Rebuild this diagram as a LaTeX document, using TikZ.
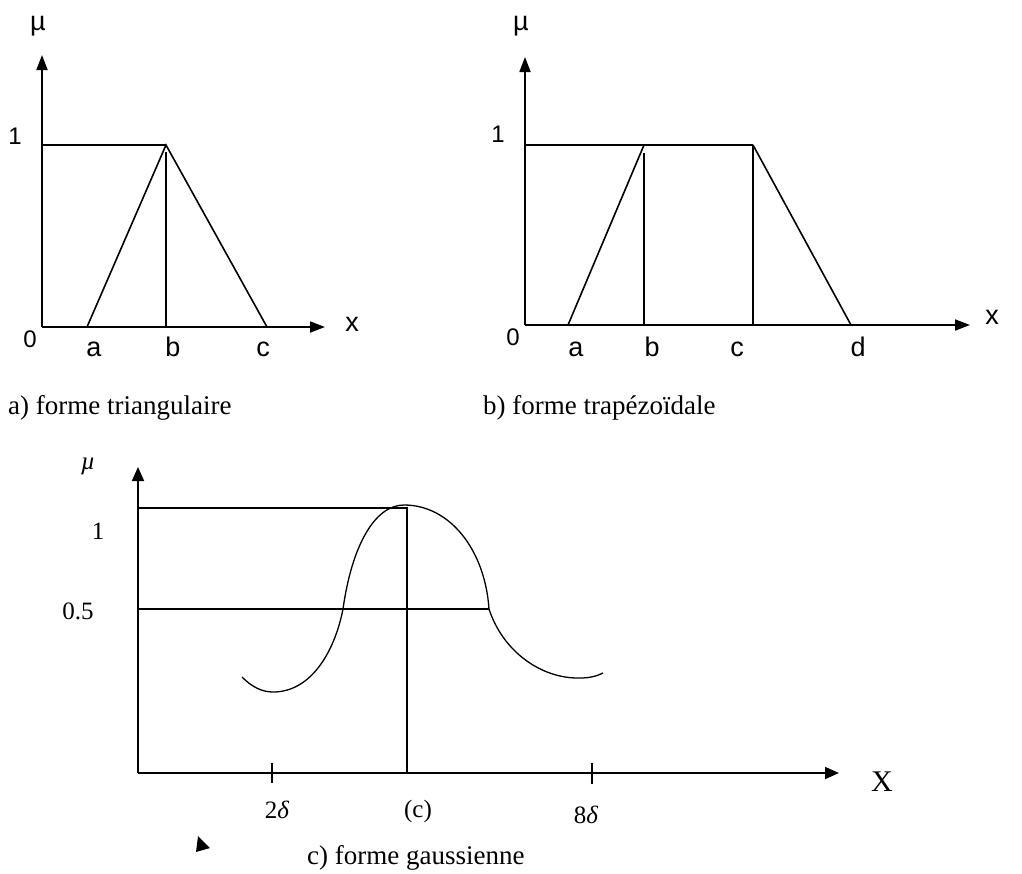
\documentclass[tikz,border=0pt]{standalone}
\usepackage{fontspec}
\setmainfont{Liberation Serif}
\newfontfamily\arialf{Liberation Sans}
\usetikzlibrary{arrows.meta}
\tikzset{
  axis/.style={line width=1.8pt,-{Triangle[length=15pt,width=11pt]}},
  axisc/.style={line width=1.7pt,-{Triangle[length=14pt,width=12pt]}},
  ln/.style={line width=1.8pt},
  lnc/.style={line width=1.6pt},
  curve/.style={line width=1.3pt},
  sanslab/.style={font=\arialf\fontsize{27}{31}\selectfont, inner sep=0pt},
  sansnum/.style={font=\arialf\fontsize{24}{28}\selectfont, inner sep=0pt},
  seriflab/.style={font=\fontsize{25}{29}\selectfont, inner sep=0pt},
  caption/.style={font=\fontsize{27}{31}\selectfont, inner sep=0pt, anchor=west},
}
\begin{document}
\begin{tikzpicture}[x=1pt,y=-1pt]
\useasboundingbox (0,0) rectangle (1022,873);
% ---------- panel a ----------
\coordinate (aO) at (42,327);
\coordinate (aY) at (42,55);
\coordinate (aX) at (325,327);
\coordinate (aA) at (87,327);
\coordinate (aB) at (166,327);
\coordinate (aBt) at (166,145);
\coordinate (aBv) at (166,152);
\coordinate (aC) at (267,327);
\coordinate (a1) at (42,145);
\draw[axis] (aO) -- (aY);
\draw[axis] (aO) -- (aX);
\draw[ln] (a1) -- (aBt);
\draw[lnc] (aA) -- (aBt) -- (aC);
\draw[ln] (aBv) -- (aB);
\node[sanslab] (amu) at (38,26) {µ};
\node[sansnum] (aone) at (15,136) {1};
\node[sansnum] (azero) at (30,339) {0};
\node[sanslab] (alx) at (352,324) {x};
\node[sanslab] (ala) at (94,349) {a};
\node[sanslab] (alb) at (173,347) {b};
\node[sanslab] (alc) at (263,349) {c};
\node[caption] (acap) at (8,408) {a) forme triangulaire};
% ---------- panel b ----------
\coordinate (bO) at (525,325);
\coordinate (bY) at (525,57);
\coordinate (bX) at (970,325);
\coordinate (bA) at (568,325);
\coordinate (bB) at (644,325);
\coordinate (bBt) at (644,145);
\coordinate (bBv) at (644,153);
\coordinate (bC) at (753,325);
\coordinate (bCt) at (753,145);
\coordinate (bD) at (851,325);
\coordinate (b1) at (525,145);
\draw[axis] (bO) -- (bY);
\draw[axis] (bO) -- (bX);
\draw[ln] (b1) -- (bCt);
\draw[lnc] (bA) -- (bBt);
\draw[lnc] (bCt) -- (bD);
\draw[ln] (bBv) -- (bB);
\draw[ln] (bCt) -- (bC);
\node[sanslab] (bmu) at (521,26) {µ};
\node[sansnum] (bone) at (498,134) {1};
\node[sansnum] (bzero) at (513,337) {0};
\node[sanslab] (blx) at (992,317) {x};
\node[sanslab] (bla) at (576,349) {a};
\node[sanslab] (blb) at (652,347) {b};
\node[sanslab] (blc) at (737,349) {c};
\node[sanslab] (bld) at (858,347) {d};
\node[caption] (bcap) at (483,408) {b) forme trapézoïdale};
% ---------- panel c ----------
\coordinate (cO) at (138,773);
\coordinate (cY) at (138,467);
\coordinate (cX) at (839,773);
\coordinate (c1) at (138,508);
\coordinate (cP) at (407,508);
\coordinate (cPb) at (407,773);
\coordinate (ch) at (138,609);
\coordinate (chr) at (489,609);
\coordinate (t2a) at (272,763);
\coordinate (t2b) at (272,783);
\coordinate (t8a) at (592,763);
\coordinate (t8b) at (592,784);
\draw[axisc] (cO) -- (cY);
\draw[axisc] (cO) -- (cX);
\draw[lnc] (c1) -- (cP) -- (cPb);
\draw[lnc] (ch) -- (chr);
\draw[lnc] (t2a) -- (t2b);
\draw[lnc] (t8a) -- (t8b);
\draw[curve] (242,677) .. controls (252,687) and (262,692) .. (273,692)
  .. controls (312,692) and (335,650) .. (343,609)
  .. controls (352,545) and (375,505) .. (404,505)
  .. controls (450,505) and (485,550) .. (489,609)
  .. controls (503,652) and (542,679) .. (580,678)
  .. controls (590,678) and (597,676) .. (603,673);
\fill (198,836) -- (196,852) -- (210,848) -- cycle;
\node[seriflab] (cmu) at (88,466) {\textit{µ}};
\node[seriflab] (cone) at (98,531) {1};
\node[seriflab] (chalf) at (78,611) {0.5};
\node[font=\fontsize{30}{34}\selectfont, inner sep=0pt] (clx) at (882,782) {X};
\node[seriflab] (cl2) at (277,810) {2\textit{δ}};
\node[seriflab] (clc) at (418,811) {(c)};
\node[seriflab] (cl8) at (586,815) {8\textit{δ}};
\node[caption] (ccap) at (307,858) {c) forme gaussienne};
\end{tikzpicture}
\end{document}
